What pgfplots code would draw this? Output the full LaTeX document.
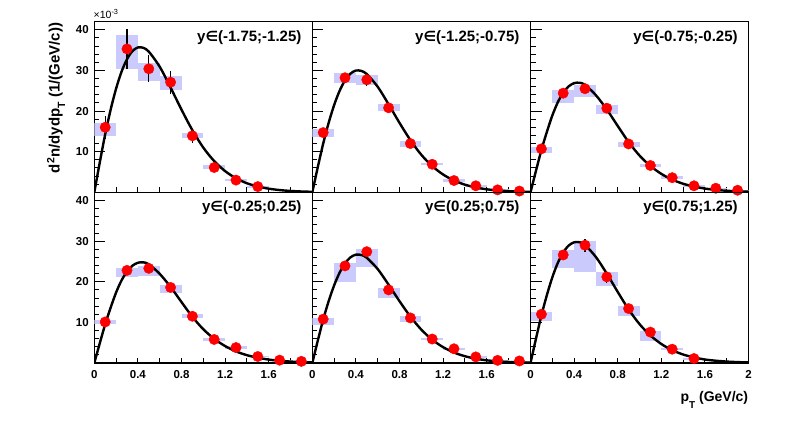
\documentclass[border=0pt]{standalone}
\usepackage{fontspec}
\setmainfont{Liberation Sans}
\newfontfamily\dejavu{DejaVu Sans}
\usepackage{pgfplots}
\usepackage{pgfplotstable}
\pgfplotsset{compat=1.18}
\definecolor{sysblue}{RGB}{202,202,252}
\definecolor{mred}{RGB}{255,0,0}

\pgfplotstableread{
x y sp sm st
0.1 16.0 1.0 2.1 2.8
0.3 35.3 3.5 5.0 4.9
0.5 30.4 1.5 3.0 3.3
0.7 27.1 1.6 1.9 2.8
0.9 13.9 0.6 0.5 1.8
1.1 6.1 0.5 0.4 0.8
1.3 3.0 0.3 0.3 0.4
1.5 1.4 0.2 0.2 0.3
}\dA
\pgfplotstableread{
x y sp sm st
0.1 14.7 1.0 1.2 1.0
0.3 28.2 1.1 1.4 1.2
0.5 27.7 1.2 1.4 1.5
0.7 20.8 1.0 0.8 1.3
0.9 12.0 0.6 0.8 0.7
1.1 6.9 0.2 0.3 0.4
1.3 2.9 0.3 0.3 0.3
1.5 1.6 0.2 0.2 0.2
1.7 0.6 0.1 0.1 0.1
1.9 0.3 0.1 0.1 0.1
}\dB
\pgfplotstableread{
x y sp sm st
0.1 10.7 0.5 1.1 0.6
0.3 24.4 0.8 2.3 0.7
0.5 25.5 0.8 2.1 0.9
0.7 20.7 0.7 1.5 0.7
0.9 11.9 0.4 0.8 0.5
1.1 6.6 0.3 0.3 0.3
1.3 3.6 0.3 0.3 0.3
1.5 1.6 0.2 0.2 0.2
1.7 1.0 0.1 0.1 0.1
1.9 0.5 0.1 0.1 0.1
}\dC
\pgfplotstableread{
x y sp sm st
0.1 10.1 0.5 0.5 0.5
0.3 22.8 0.5 1.6 0.6
0.5 23.3 0.7 1.8 0.7
0.7 18.6 0.7 1.3 0.6
0.9 11.5 0.5 0.5 0.4
1.1 5.8 0.3 0.3 0.3
1.3 3.8 0.3 0.3 0.2
1.5 1.6 0.2 0.2 0.2
1.7 0.7 0.1 0.1 0.1
1.9 0.4 0.1 0.1 0.1
}\dD
\pgfplotstableread{
x y sp sm st
0.1 10.8 0.3 1.5 0.6
0.3 23.9 0.6 4.0 0.7
0.5 27.4 0.6 3.8 1.2
0.7 18.0 0.5 1.9 0.8
0.9 11.1 0.5 1.1 0.5
1.1 5.9 0.3 0.3 0.3
1.3 3.5 0.3 0.3 0.2
1.5 1.5 0.2 0.2 0.2
1.7 0.65 0.1 0.1 0.1
1.9 0.5 0.1 0.1 0.1
}\dE
\pgfplotstableread{
x y sp sm st
0.1 12.0 0.5 1.6 0.7
0.3 26.6 1.1 3.3 1.2
0.5 29.0 1.1 6.6 1.6
0.7 21.2 1.1 2.3 1.4
0.9 13.4 0.7 1.8 0.9
1.1 7.6 0.2 2.2 0.5
1.3 3.4 0.3 0.3 0.3
1.5 1.1 0.2 0.2 0.2
}\dF

\pgfplotsset{
  panel/.style={
    scale only axis, width=218pt, height=170.6pt,
    xmin=0, xmax=2, ymin=0, ymax=42,
    anchor=south west,
    tick align=inside, tick pos=left,
    axis line style={line width=1.1pt},
    every tick/.append style={line width=0.9pt, black},
    major tick length=11pt, minor tick length=5pt,
    xtick={0,0.4,0.8,1.2,1.6},
    minor xtick={0,0.2,0.4,0.6,0.8,1.0,1.2,1.4,1.6,1.8},
    every major x tick/.append style={draw opacity=0},
    ytick={10,20,30,40},
    minor ytick={2,4,6,8,12,14,16,18,22,24,26,28,32,34,36,38},
    /pgf/number format/assume math mode=true,
    ticklabel style={font=\fontsize{11.5}{12}\selectfont\bfseries},
    xticklabel style={yshift=-4pt},
    yticklabel style={xshift=-2pt},
  },
  sys/.style={draw=none, forget plot, error bars/.cd, y dir=both, y explicit, error mark=none,
    error bar style={draw=sysblue, line width=21.8pt}},
  stat/.style={draw=none, forget plot, error bars/.cd, y dir=both, y explicit, error mark=none,
    error bar style={draw=black, line width=1.3pt}},
  pts/.style={only marks, mark=*, mark size=5.2pt, mark options={draw=mred, fill=mred}},
  fit/.style={black, line width=2.4pt, smooth, tension=0.5},
}
\tikzset{ttl/.style={anchor=east, inner sep=0pt, font=\fontsize{15}{15}\selectfont\bfseries}}
\newcommand{\inn}{{\dejavu\fontsize{14}{14}\selectfont ∈}}

\begin{document}
\begin{tikzpicture}
\useasboundingbox (0,0) rectangle (788pt,428pt);

% ---------- top row ----------
\begin{axis}[panel, at={(94.3pt,235.7pt)}, xticklabels={}]
\addplot[sys] table[x=x, y=y, y error plus=sp, y error minus=sm] {\dA};
\addplot[fit] coordinates {(0,0) (0.05,7.32) (0.1,14.28) (0.15,20.35) (0.2,25.53) (0.25,29.70) (0.3,32.77) (0.35,34.77) (0.4,35.66) (0.45,35.56) (0.5,34.63) (0.6,30.92) (0.7,25.78) (0.8,20.35) (0.9,15.28) (1.0,11.00) (1.1,7.68) (1.2,5.21) (1.3,3.45) (1.4,2.23) (1.5,1.42) (1.6,0.89) (1.7,0.55) (1.8,0.33) (1.9,0.20) (2.0,0.12)};
\addplot[stat] table[x=x, y=y, y error=st] {\dA};
\addplot[pts] table[x=x, y=y] {\dA};
\node[ttl] at (rel axis cs:0.951,0.9085) {y\inn(-1.75;-1.25)};
\end{axis}

\begin{axis}[panel, at={(312.3pt,235.7pt)}, xticklabels={}, yticklabels={}]
\addplot[sys] table[x=x, y=y, y error plus=sp, y error minus=sm] {\dB};
\addplot[fit] coordinates {(0,0) (0.05,6.15) (0.1,12.0) (0.15,17.1) (0.2,21.45) (0.25,24.96) (0.3,27.54) (0.35,29.22) (0.4,29.97) (0.45,29.88) (0.5,29.10) (0.6,25.98) (0.7,21.66) (0.8,17.10) (0.9,12.84) (1.0,9.24) (1.1,6.45) (1.2,4.38) (1.3,2.90) (1.4,1.88) (1.5,1.19) (1.6,0.74) (1.7,0.46) (1.8,0.28) (1.9,0.17) (2.0,0.10)};
\addplot[stat] table[x=x, y=y, y error=st] {\dB};
\addplot[pts] table[x=x, y=y] {\dB};
\node[ttl] at (rel axis cs:0.951,0.9085) {y\inn(-1.25;-0.75)};
\end{axis}

\begin{axis}[panel, at={(530.5pt,235.7pt)}, xticklabels={}, yticklabels={}]
\addplot[sys] table[x=x, y=y, y error plus=sp, y error minus=sm] {\dC};
\addplot[fit] coordinates {(0,0) (0.05,5.27) (0.1,10.40) (0.15,14.85) (0.2,18.90) (0.25,22.14) (0.3,24.52) (0.35,26.08) (0.4,26.87) (0.45,26.97) (0.5,26.46) (0.6,23.90) (0.7,20.39) (0.8,16.34) (0.9,12.37) (1.0,9.05) (1.1,6.48) (1.2,4.54) (1.3,3.11) (1.4,2.11) (1.5,1.40) (1.6,0.92) (1.7,0.59) (1.8,0.38) (1.9,0.24) (2.0,0.15)};
\addplot[stat] table[x=x, y=y, y error=st] {\dC};
\addplot[pts] table[x=x, y=y] {\dC};
\node[ttl] at (rel axis cs:0.951,0.9085) {y\inn(-0.75;-0.25)};
\end{axis}

% ---------- bottom row ----------
\begin{axis}[panel, at={(94.3pt,65pt)}]
\addplot[sys] table[x=x, y=y, y error plus=sp, y error minus=sm] {\dD};
\addplot[fit] coordinates {(0,0) (0.05,4.84) (0.1,9.55) (0.15,13.64) (0.2,17.36) (0.25,20.34) (0.3,22.52) (0.35,23.96) (0.4,24.68) (0.45,24.78) (0.5,24.30) (0.6,21.95) (0.7,18.72) (0.8,15.00) (0.9,11.36) (1.0,8.31) (1.1,5.95) (1.2,4.17) (1.3,2.85) (1.4,1.93) (1.5,1.29) (1.6,0.84) (1.7,0.55) (1.8,0.35) (1.9,0.22) (2.0,0.14)};
\addplot[stat] table[x=x, y=y, y error=st] {\dD};
\addplot[pts] table[x=x, y=y] {\dD};
\node[ttl] at (rel axis cs:0.951,0.9085) {y\inn(-0.25;0.25)};
\end{axis}

\begin{axis}[panel, at={(312.3pt,65pt)}, yticklabels={}]
\addplot[sys] table[x=x, y=y, y error plus=sp, y error minus=sm] {\dE};
\addplot[fit] coordinates {(0,0) (0.05,5.47) (0.1,10.68) (0.15,15.22) (0.2,19.09) (0.25,22.21) (0.3,24.51) (0.35,26.01) (0.4,26.67) (0.45,26.59) (0.5,25.90) (0.6,23.12) (0.7,19.28) (0.8,15.22) (0.9,11.43) (1.0,8.22) (1.1,5.74) (1.2,3.90) (1.3,2.58) (1.4,1.67) (1.5,1.06) (1.6,0.66) (1.7,0.41) (1.8,0.25) (1.9,0.15) (2.0,0.09)};
\addplot[stat] table[x=x, y=y, y error=st] {\dE};
\addplot[pts] table[x=x, y=y] {\dE};
\node[ttl] at (rel axis cs:0.951,0.9085) {y\inn(0.25;0.75)};
\end{axis}

\begin{axis}[panel, at={(530.5pt,65pt)}, yticklabels={}, xtick={0,0.4,0.8,1.2,1.6,2}]
\addplot[sys] table[x=x, y=y, y error plus=sp, y error minus=sm] {\dF};
\addplot[fit] coordinates {(0,0) (0.05,5.96) (0.1,11.70) (0.15,16.69) (0.2,21.08) (0.25,24.61) (0.3,27.21) (0.35,28.91) (0.4,29.71) (0.45,29.73) (0.5,29.06) (0.6,26.09) (0.7,22.01) (0.8,17.51) (0.9,13.20) (1.0,9.58) (1.1,6.78) (1.2,4.68) (1.3,3.16) (1.4,2.09) (1.5,1.37) (1.6,0.86) (1.7,0.56) (1.8,0.35) (1.9,0.22) (2.0,0.13)};
\addplot[stat] table[x=x, y=y, y error=st] {\dF};
\addplot[pts] table[x=x, y=y] {\dF};
\node[ttl] at (rel axis cs:0.951,0.9085) {y\inn(0.75;1.25)};
\end{axis}

% ---------- labels ----------
\node[rotate=90, inner sep=0pt, font=\fontsize{15}{15}\selectfont\bfseries] at (56pt,330pt)
  {d\textsuperscript{2}n/dydp\raisebox{-5.5pt}{\fontsize{10.5}{10.5}\selectfont T} (1/(GeV/c))};
\node[anchor=base east, inner sep=0pt, font=\fontsize{14}{14}\selectfont\bfseries] at (748.3pt,26pt)
  {p\raisebox{-7pt}{\fontsize{10}{10}\selectfont T} (GeV/c)};
\node[anchor=south west, inner sep=0pt, font=\fontsize{10.5}{10.5}\selectfont] at (93.5pt,409pt)
  {×10\textsuperscript{-3}};
\end{tikzpicture}
\end{document}
